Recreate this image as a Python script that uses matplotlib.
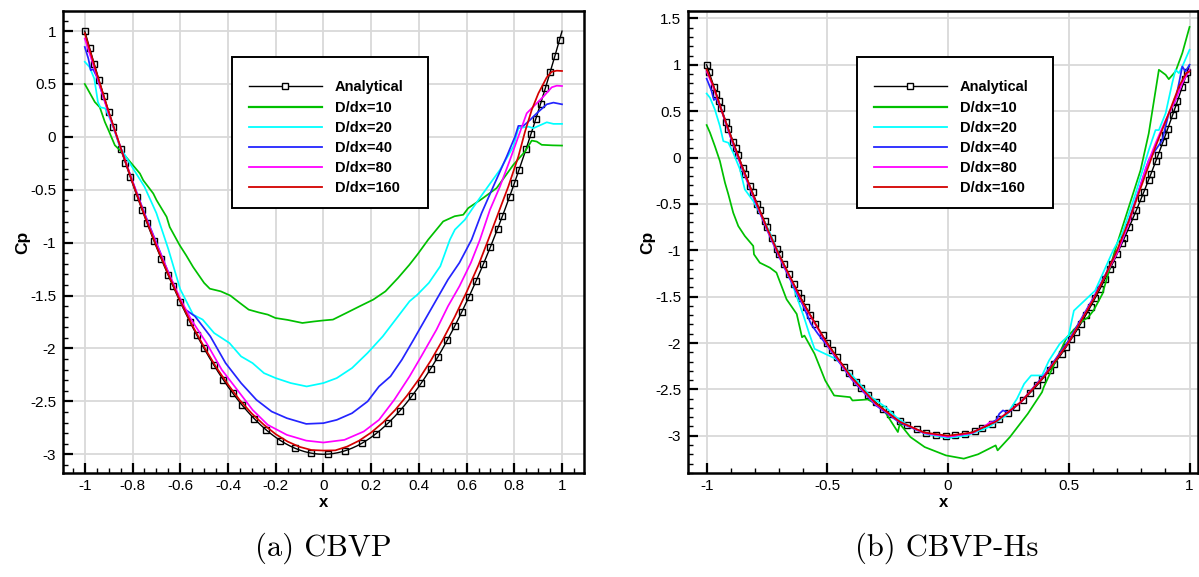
import numpy as np
import matplotlib
matplotlib.use("Agg")
import matplotlib.pyplot as plt
from matplotlib.lines import Line2D
from matplotlib.patches import Rectangle
from matplotlib.ticker import FixedLocator, FixedFormatter, MultipleLocator

plt.rcParams['font.family'] = ['Liberation Sans', 'DejaVu Sans']

# ---------------- data ----------------
series_labels = ['Analytical', 'D/dx=10', 'D/dx=20', 'D/dx=40', 'D/dx=80', 'D/dx=160']

# analytical Cp sampled at x = -1 ... 1 (step 0.01)
ana_x = np.linspace(-1.0, 1.0, 201)
ana_cp = [
    1.0, 0.9204, 0.8416, 0.7636, 0.6864, 0.61, 0.5344, 0.4596, 0.3856, 0.3124,
    0.24, 0.1684, 0.0976, 0.0276, -0.0416, -0.11, -0.1776, -0.2444, -0.3104, -0.3756,
    -0.44, -0.5036, -0.5664, -0.6284, -0.6896, -0.75, -0.8096, -0.8684, -0.9264, -0.9836,
    -1.04, -1.0956, -1.1504, -1.2044, -1.2576, -1.31, -1.3616, -1.4124, -1.4624, -1.5116,
    -1.56, -1.6076, -1.6544, -1.7004, -1.7456, -1.79, -1.8336, -1.8764, -1.9184, -1.9596,
    -2.0, -2.0396, -2.0784, -2.1164, -2.1536, -2.19, -2.2256, -2.2604, -2.2944, -2.3276,
    -2.36, -2.3916, -2.4224, -2.4524, -2.4816, -2.51, -2.5376, -2.5644, -2.5904, -2.6156,
    -2.64, -2.6636, -2.6864, -2.7084, -2.7296, -2.75, -2.7696, -2.7884, -2.8064, -2.8236,
    -2.84, -2.8556, -2.8704, -2.8844, -2.8976, -2.91, -2.9216, -2.9324, -2.9424, -2.9516,
    -2.96, -2.9676, -2.9744, -2.9804, -2.9856, -2.99, -2.9936, -2.9964, -2.9984, -2.9996,
    -3.0,
    -2.9996, -2.9984, -2.9964, -2.9936, -2.99, -2.9856, -2.9804, -2.9744, -2.9676, -2.96,
    -2.9516, -2.9424, -2.9324, -2.9216, -2.91, -2.8976, -2.8844, -2.8704, -2.8556, -2.84,
    -2.8236, -2.8064, -2.7884, -2.7696, -2.75, -2.7296, -2.7084, -2.6864, -2.6636, -2.64,
    -2.6156, -2.5904, -2.5644, -2.5376, -2.51, -2.4816, -2.4524, -2.4224, -2.3916, -2.36,
    -2.3276, -2.2944, -2.2604, -2.2256, -2.19, -2.1536, -2.1164, -2.0784, -2.0396, -2.0,
    -1.9596, -1.9184, -1.8764, -1.8336, -1.79, -1.7456, -1.7004, -1.6544, -1.6076, -1.56,
    -1.5116, -1.4624, -1.4124, -1.3616, -1.31, -1.2576, -1.2044, -1.1504, -1.0956, -1.04,
    -0.9836, -0.9264, -0.8684, -0.8096, -0.75, -0.6896, -0.6284, -0.5664, -0.5036, -0.44,
    -0.3756, -0.3104, -0.2444, -0.1776, -0.11, -0.0416, 0.0276, 0.0976, 0.1684, 0.24,
    0.3124, 0.3856, 0.4596, 0.5344, 0.61, 0.6864, 0.7636, 0.8416, 0.9204, 1.0,
]

# ---- (a) CBVP ----
a10_x = [-1.0, -0.958, -0.937, -0.916, -0.9, -0.874, -0.853, -0.839, -0.804, -0.769, -0.755,
         -0.713, -0.699, -0.657, -0.644, -0.602, -0.575, -0.546, -0.5, -0.476, -0.43, -0.39,
         -0.35, -0.313, -0.27, -0.233, -0.201, -0.15, -0.088, -0.04, 0.0, 0.04, 0.1, 0.153,
         0.209, 0.26, 0.313, 0.36, 0.394, 0.439, 0.502, 0.55, 0.586, 0.607, 0.663, 0.726,
         0.796, 0.845, 0.873, 0.894, 0.915, 0.96, 1.0]
a10_y = [0.50, 0.33, 0.28, 0.142, 0.06, -0.079, -0.125, -0.158, -0.252, -0.346, -0.41,
         -0.535, -0.599, -0.756, -0.852, -1.025, -1.12, -1.23, -1.38, -1.435, -1.46, -1.50,
         -1.57, -1.633, -1.66, -1.68, -1.712, -1.73, -1.759, -1.745, -1.735, -1.727, -1.66, -1.60,
         -1.538, -1.46, -1.333, -1.21, -1.112, -0.972, -0.799, -0.75, -0.736, -0.673, -0.588, -0.484,
         -0.264, -0.138, -0.035, -0.044, -0.075, -0.08, -0.082]

a20_x = [-1.0, -0.98, -0.96, -0.945, -0.935, -0.915, -0.9, -0.881, -0.853, -0.8, -0.75, -0.7,
         -0.65, -0.6, -0.546, -0.506, -0.458, -0.394, -0.345, -0.297, -0.249, -0.2, -0.137,
         -0.07, 0.0, 0.056, 0.12, 0.185, 0.249, 0.313, 0.361, 0.394, 0.442, 0.49, 0.53, 0.551,
         0.593, 0.621, 0.67, 0.74, 0.796, 0.817, 0.859, 0.88, 0.936, 0.964, 1.0]
a20_y = [0.71, 0.66, 0.55, 0.33, 0.28, 0.27, 0.2, 0.095, -0.095, -0.29, -0.47, -0.72,
         -1.06, -1.44, -1.68, -1.727, -1.854, -1.948, -2.075, -2.138, -2.233, -2.28, -2.327,
         -2.359, -2.327, -2.28, -2.185, -2.043, -1.885, -1.696, -1.554, -1.491, -1.38, -1.222, -0.972, -0.877,
         -0.783, -0.689, -0.531, -0.311, -0.091, 0.082, 0.097, 0.082, 0.138, 0.123, 0.123]

a40_x = [-1.0, -0.985, -0.975, -0.965, -0.95, -0.92, -0.9, -0.85, -0.8, -0.75, -0.7, -0.65,
         -0.6, -0.586, -0.538, -0.474, -0.41, -0.345, -0.281, -0.217, -0.153, -0.072, 0.0,
         0.056, 0.12, 0.185, 0.233, 0.281, 0.329, 0.378, 0.426, 0.474, 0.522, 0.57, 0.621,
         0.663, 0.712, 0.768, 0.803, 0.817, 0.838, 0.866, 0.894, 0.936, 0.964, 1.0]
a40_y = [0.85, 0.74, 0.63, 0.64, 0.57, 0.36, 0.23, -0.10, -0.42, -0.72, -1.0, -1.28,
         -1.54, -1.62, -1.696, -1.885, -2.138, -2.327, -2.485, -2.596, -2.659, -2.713, -2.706,
         -2.675, -2.612, -2.501, -2.359, -2.264, -2.106, -1.917, -1.727, -1.538, -1.349, -1.19, -0.972,
         -0.72, -0.469, -0.186, 0.003, 0.104, 0.104, 0.16, 0.223, 0.308, 0.324, 0.308]

a80_x = [-1.0, -0.95, -0.9, -0.85, -0.8, -0.75, -0.7, -0.65, -0.6, -0.554, -0.49, -0.426,
         -0.361, -0.297, -0.233, -0.153, -0.072, 0.0, 0.088, 0.169, 0.233, 0.297, 0.361, 0.41,
         0.474, 0.522, 0.57, 0.618, 0.656, 0.698, 0.74, 0.782, 0.817, 0.852, 0.866, 0.894,
         0.922, 0.957, 0.978, 1.0]
a80_y = [0.93, 0.58, 0.22, -0.10, -0.42, -0.73, -1.01, -1.28, -1.53, -1.727, -1.948, -2.201,
         -2.391, -2.58, -2.722, -2.817, -2.871, -2.889, -2.864, -2.785, -2.675, -2.485, -2.264, -2.075,
         -1.822, -1.601, -1.412, -1.19, -0.972, -0.689, -0.469, -0.217, 0.003, 0.223, 0.255, 0.318,
         0.381, 0.469, 0.484, 0.481]

a160_x = [-1.0, -0.95, -0.9, -0.85, -0.8, -0.75, -0.7, -0.65, -0.6, -0.55, -0.5, -0.45, -0.4,
          -0.35, -0.3, -0.25, -0.2, -0.15, -0.1, -0.05, 0.0, 0.05, 0.1, 0.15, 0.2, 0.25, 0.3,
          0.35, 0.4, 0.45, 0.5, 0.55, 0.6, 0.65, 0.691, 0.733, 0.775, 0.817, 0.845, 0.873,
          0.901, 0.936, 0.957, 0.978, 1.0]
a160_y = [0.98, 0.60, 0.24, -0.10, -0.43, -0.74, -1.03, -1.30, -1.55, -1.78, -1.985, -2.175, -2.34,
          -2.49, -2.615, -2.72, -2.81, -2.88, -2.93, -2.96, -2.965, -2.963, -2.927, -2.871, -2.795, -2.699, -2.583,
          -2.447, -2.291, -2.115, -1.919, -1.703, -1.467, -1.211, -0.972, -0.72, -0.469, -0.186, 0.05, 0.255,
          0.412, 0.563, 0.616, 0.626, 0.623]

# ---- (b) CBVP-Hs ----
b10_x = [-1.0, -0.986, -0.966, -0.945, -0.924, -0.91, -0.89, -0.869, -0.842, -0.807, -0.804,
         -0.78, -0.738, -0.711, -0.69, -0.669, -0.627, -0.605, -0.595, -0.553, -0.509, -0.472,
         -0.406, -0.396, -0.333, -0.274, -0.208, -0.2, -0.156, -0.097, -0.009, 0.065, 0.124,
         0.197, 0.205, 0.256, 0.33, 0.389, 0.396, 0.447, 0.492, 0.55, 0.58, 0.602, 0.639,
         0.693, 0.735, 0.797, 0.831, 0.873, 0.901, 0.914, 0.942, 0.97, 1.0]
b10_y = [0.35, 0.267, 0.123, -0.039, -0.272, -0.398, -0.595, -0.739, -0.846, -0.954, -1.044,
         -1.134, -1.188, -1.241, -1.385, -1.529, -1.687, -1.938, -1.92, -2.117, -2.404, -2.566,
         -2.584, -2.62, -2.609, -2.691, -2.96, -2.871, -3.014, -3.122, -3.212, -3.247, -3.20,
         -3.104, -3.158, -3.014, -2.763, -2.53, -2.476, -2.189, -1.938, -1.776, -1.722, -1.651, -1.471,
         -0.986, -0.643, -0.137, 0.26, 0.946, 0.892, 0.845, 0.928, 1.126, 1.408]

b20_x = [-1.0, -0.986, -0.966, -0.945, -0.931, -0.91, -0.89, -0.862, -0.842, -0.807, -0.773,
         -0.738, -0.7, -0.65, -0.62, -0.597, -0.575, -0.553, -0.524, -0.465, -0.391, -0.318,
         -0.259, -0.215, -0.156, -0.097, 0.0, 0.079, 0.168, 0.241, 0.285, 0.315, 0.344, 0.389,
         0.418, 0.462, 0.499, 0.521, 0.565, 0.609, 0.683, 0.721, 0.776, 0.831, 0.859, 0.873,
         0.901, 0.928, 0.942, 0.956, 0.97, 1.0]
b20_y = [0.69, 0.644, 0.518, 0.338, 0.177, 0.159, 0.051, -0.128, -0.344, -0.469, -0.631,
         -0.811, -1.05, -1.33, -1.55, -1.72, -1.90, -2.063, -2.099, -2.171, -2.368, -2.584,
         -2.691, -2.799, -2.907, -2.978, -3.025, -2.996, -2.907, -2.781, -2.602, -2.44, -2.35, -2.35,
         -2.189, -2.01, -1.92, -1.651, -1.543, -1.435, -1.005, -0.823, -0.39, 0.079, 0.296, 0.296,
         0.477, 0.801, 0.946, 0.91, 0.982, 1.162]

b40_x = [-1.0, -0.98, -0.97, -0.96, -0.94, -0.9, -0.85, -0.8, -0.75, -0.7, -0.6, -0.568,
         -0.539, -0.5, -0.4, -0.3, -0.2, -0.1, 0.0, 0.1, 0.2, 0.212, 0.227, 0.25, 0.3, 0.4,
         0.5, 0.6, 0.65, 0.721, 0.776, 0.831, 0.887, 0.914, 0.942, 0.97, 0.983, 1.0]
b40_y = [0.85, 0.72, 0.62, 0.64, 0.52, 0.21, -0.14, -0.47, -0.78, -1.07, -1.60, -1.794,
         -1.902, -2.03, -2.39, -2.67, -2.86, -2.97, -3.01, -2.97, -2.83, -2.763, -2.727, -2.75, -2.64, -2.34,
         -1.97, -1.52, -1.27, -0.895, -0.462, -0.029, 0.188, 0.477, 0.621, 0.982, 0.928, 1.0]

b80_x = [-1.0, -0.97, -0.94, -0.9, -0.85, -0.8, -0.75, -0.7, -0.6, -0.5, -0.4, -0.3, -0.2,
         -0.1, 0.0, 0.1, 0.15, 0.175, 0.19, 0.2, 0.3, 0.4, 0.5, 0.6, 0.7, 0.75, 0.79, 0.818,
         0.859, 0.901, 0.942, 0.97, 1.0]
b80_y = [0.93, 0.74, 0.52, 0.22, -0.13, -0.46, -0.77, -1.06, -1.58, -2.02, -2.38, -2.66, -2.85,
         -2.97, -3.01, -2.97, -2.90, -2.853, -2.86, -2.84, -2.64, -2.35, -1.99, -1.53, -1.03, -0.70, -0.36, -0.12,
         0.152, 0.404, 0.621, 0.801, 0.946]

b160_x = [-1.0, -0.97, -0.94, -0.9, -0.85, -0.8, -0.75, -0.7, -0.6, -0.5, -0.4, -0.3, -0.2,
          -0.1, 0.0, 0.1, 0.2, 0.3, 0.4, 0.5, 0.6, 0.65, 0.7, 0.749, 0.804, 0.859, 0.914,
          0.956, 0.986, 1.0]
b160_y = [0.95, 0.76, 0.52, 0.23, -0.12, -0.45, -0.76, -1.05, -1.57, -2.01, -2.37, -2.65, -2.85,
          -2.965, -3.0, -2.965, -2.845, -2.64, -2.355, -1.99, -1.54, -1.28, -1.0, -0.679, -0.282, 0.116, 0.477,
          0.765, 0.91, 0.928]

# tick labels
a_xticks = [-1.0, -0.8, -0.6, -0.4, -0.2, 0.0, 0.2, 0.4, 0.6, 0.8, 1.0]
a_xticklabels = ['-1', '-0.8', '-0.6', '-0.4', '-0.2', '0', '0.2', '0.4', '0.6', '0.8', '1']
a_yticks = [-3.0, -2.5, -2.0, -1.5, -1.0, -0.5, 0.0, 0.5, 1.0]
a_yticklabels = ['-3', '-2.5', '-2', '-1.5', '-1', '-0.5', '0', '0.5', '1']
b_xticks = [-1.0, -0.5, 0.0, 0.5, 1.0]
b_xticklabels = ['-1', '-0.5', '0', '0.5', '1']
b_yticks = [-3.0, -2.5, -2.0, -1.5, -1.0, -0.5, 0.0, 0.5, 1.0, 1.5]
b_yticklabels = ['-3', '-2.5', '-2', '-1.5', '-1', '-0.5', '0', '0.5', '1', '1.5']
captions = ['(a) CBVP', '(b) CBVP-Hs']

colors = ['#00c000', '#00ffff', '#2424ff', '#ff00ff', '#d40000']

# ---------------- figure ----------------
W, H = 1199, 577
fig = plt.figure(figsize=(W / 100, H / 100), dpi=100)
AX_TOP, AX_BOT = 11.0, 473.3
ax1_l, ax1_r = 63.3, 583.5
ax2_l, ax2_r = 688.3, 1198.0
ax1 = fig.add_axes([ax1_l / W, 1 - AX_BOT / H, (ax1_r - ax1_l) / W, (AX_BOT - AX_TOP) / H])
ax2 = fig.add_axes([ax2_l / W, 1 - AX_BOT / H, (ax2_r - ax2_l) / W, (AX_BOT - AX_TOP) / H])


def style(ax, xt, xtl, yt, ytl, xmin_step, ymin_step, xlim, ylim):
    ax.set_xlim(*xlim)
    ax.set_ylim(*ylim)
    ax.xaxis.set_major_locator(FixedLocator(xt))
    ax.xaxis.set_major_formatter(FixedFormatter(xtl))
    ax.yaxis.set_major_locator(FixedLocator(yt))
    ax.yaxis.set_major_formatter(FixedFormatter(ytl))
    ax.xaxis.set_minor_locator(MultipleLocator(xmin_step))
    ax.yaxis.set_minor_locator(MultipleLocator(ymin_step))
    ax.tick_params(which='both', direction='in', top=False, right=False, colors='black')
    ax.tick_params(which='major', length=7.5, width=1.6, labelsize=11)
    ax.tick_params(axis='x', which='major', pad=4)
    ax.tick_params(axis='y', which='major', pad=5)
    ax.tick_params(which='minor', length=3.8, width=1.0)
    ax.grid(True, which='major', color='#d9d9d9', linewidth=1.3)
    ax.set_axisbelow(True)
    for s in ax.spines.values():
        s.set_linewidth(1.8)


def draw(ax, every, data):
    ax.plot(ana_x, ana_cp, color='black', lw=1.0, marker='s', ms=4.6, mfc='none',
            mec='black', mew=1.0, markevery=every, zorder=3)
    for (xs, ys), c in zip(data, colors):
        ax.plot(xs, ys, color=c, lw=1.25, zorder=4)


draw(ax1, 0.0245, [(a10_x, a10_y), (a20_x, a20_y), (a40_x, a40_y), (a80_x, a80_y), (a160_x, a160_y)])
draw(ax2, 0.0142, [(b10_x, b10_y), (b20_x, b20_y), (b40_x, b40_y), (b80_x, b80_y), (b160_x, b160_y)])

style(ax1, a_xticks, a_xticklabels, a_yticks, a_yticklabels, 0.05, 0.1, (-1.09, 1.09), (-3.18, 1.19))
style(ax2, b_xticks, b_xticklabels, b_yticks, b_yticklabels, 0.1, 0.1, (-1.076, 1.035), (-3.405, 1.58))

for ax, xl in [(ax1, -0.0627), (ax2, -0.0653)]:
    ax.set_xlabel('x', fontsize=12, fontweight='bold')
    ax.set_ylabel('Cp', fontsize=12.5, fontweight='bold')
    ax.xaxis.set_label_coords(0.5, -0.047)
    ax.yaxis.set_label_coords(xl, 0.5)

handles = [Line2D([0], [0], color='black', lw=1.0, marker='s', ms=4.6, mfc='white', mec='black', mew=1.0)]
handles += [Line2D([0], [0], color=c, lw=1.6 if i == 0 else 1.3) for i, c in enumerate(colors)]

AXH = AX_BOT - AX_TOP
for ax, axl, axr, box_l in [(ax1, ax1_l, ax1_r, 232.3), (ax2, ax2_l, ax2_r, 857.3)]:
    axw = axr - axl
    box_top, box_bot, box_w = 56.7, 208.0, 196.0
    rect = Rectangle(((box_l - axl) / axw, (AX_BOT - box_bot) / AXH), box_w / axw,
                     (box_bot - box_top) / AXH, transform=ax.transAxes, facecolor='white',
                     edgecolor='black', linewidth=1.4, zorder=5)
    ax.add_patch(rect)
    leg = ax.legend(handles, series_labels, loc='upper left',
                    bbox_to_anchor=((box_l + 16.5 - axl) / axw, (AX_BOT - 80.5) / AXH),
                    borderaxespad=0, frameon=False,
                    prop={'weight': 'bold', 'size': 10.5, 'family': 'Liberation Sans'},
                    handlelength=5.0, handletextpad=0.9, labelspacing=0.42, borderpad=0)
    leg.set_zorder(6)

fig.text(323 / W, 1 - 548 / H, captions[0], family='cmr10', fontsize=22, ha='center', va='center')
fig.text(947 / W, 1 - 548 / H, captions[1], family='cmr10', fontsize=22, ha='center', va='center')

fig.savefig('out.png', dpi=100)
